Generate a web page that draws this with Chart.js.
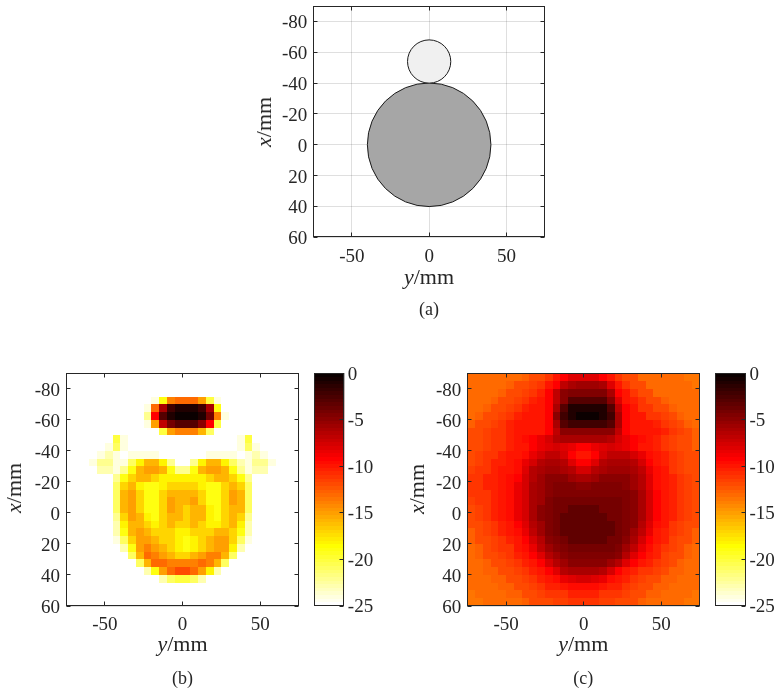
<!DOCTYPE html>
<html>
<head>
<meta charset="utf-8">
<script src="https://cdn.jsdelivr.net/npm/chart.js@4.4.1/dist/chart.umd.min.js"></script>
<style>
  html, body { margin:0; padding:0; background:#fff; }
  #fig { position:relative; width:781px; height:696px; overflow:hidden; font-family:"Liberation Serif","Times New Roman",serif; color:#262626; }
  #fig canvas { position:absolute; }
  .t { position:absolute; white-space:nowrap; line-height:1; transform:translate(-50%,-50%); }
  .ax { font-size:22px; }
  .rot { transform:translate(-50%,-50%) rotate(-90deg); }
  .cap { font-size:18px; }
</style>
</head>
<body>
<div id="fig">
  <canvas id="cA"></canvas>
  <canvas id="cB"></canvas>
  <canvas id="cBbar"></canvas>
  <canvas id="cC"></canvas>
  <canvas id="cCbar"></canvas>

  <div class="t ax rot" style="left:263.6px;top:121.7px"><i>x</i>/mm</div>
  <div class="t ax" style="left:429px;top:276.6px"><i>y</i>/mm</div>
  <div class="t cap" style="left:429px;top:308.5px">(a)</div>

  <div class="t ax rot" style="left:14.3px;top:488px"><i>x</i>/mm</div>
  <div class="t ax" style="left:182.5px;top:643.6px"><i>y</i>/mm</div>
  <div class="t cap" style="left:182.5px;top:677.5px">(b)</div>

  <div class="t ax rot" style="left:416.6px;top:488.5px"><i>x</i>/mm</div>
  <div class="t ax" style="left:583.3px;top:643.6px"><i>y</i>/mm</div>
  <div class="t cap" style="left:583.3px;top:677.5px">(c)</div>
</div>
<script>
// ---------------- data ----------------
const W = -25; // background level (dB)
const hTicks = [-50, 0, 50];                              // horizontal axis: y/mm
const vTicks = [-80, -60, -40, -20, 0, 20, 40, 60];       // vertical axis: x/mm
const hLimits = [-75, 75];
const vLimits = [-90, 60];
const cbTicks = [0, -5, -10, -15, -20, -25];
const cbLimits = [-25, 0];

// panel (a): phantom discs (centre y, centre x, radius, all in mm)
const discY = [0, 0];
const discX = [0, -54];
const discR = [40, 14];

// heat-map cell centres (mm)
const cellY = [-72.5,-67.5,-62.5,-57.5,-52.5,-47.5,-42.5,-37.5,-32.5,-27.5,-22.5,-17.5,-12.5,-7.5,-2.5,2.5,7.5,12.5,17.5,22.5,27.5,32.5,37.5,42.5,47.5,52.5,57.5,62.5,67.5,72.5];
const cellX = [-87.5,-82.5,-77.5,-72.5,-67.5,-62.5,-57.5,-52.5,-47.5,-42.5,-37.5,-32.5,-27.5,-22.5,-17.5,-12.5,-7.5,-2.5,2.5,7.5,12.5,17.5,22.5,27.5,32.5,37.5,42.5,47.5,52.5,57.5];
const cellSize = 5;

// panel (b) image values (dB), rows = x from -87.5 to 57.5, cols = y from -72.5 to 72.5
const mapB = [
[W,W,W,W,W,W,W,W,W,W,W,W,W,W,W,W,W,W,W,W,W,W,W,W,W,W,W,W,W,W],
[W,W,W,W,W,W,W,W,W,W,W,W,W,W,W,W,W,W,W,W,W,W,W,W,W,W,W,W,W,W],
[W,W,W,W,W,W,W,W,W,W,W,W,W,W,W,W,W,W,W,W,W,W,W,W,W,W,W,W,W,W],
[W,W,W,W,W,W,W,W,W,W,W,-24,-19,-14,-13,-13,-13,-15,-20,-24,W,W,W,W,W,W,W,W,W,W],
[W,W,W,W,W,W,W,W,W,W,-24,-13,-6,-2,-1,-1,-1,-2,-6,-19,W,W,W,W,W,W,W,W,W,W],
[W,W,W,W,W,W,W,W,W,W,-22,-9,-3,-1,0,0,0,-1,-4,-14,-24,W,W,W,W,W,W,W,W,W],
[W,W,W,W,W,W,W,W,W,W,-24,-15,-7,-4,-3,-3,-3,-5,-9,-20,W,W,W,W,W,W,W,W,W,W],
[W,W,W,W,W,W,W,W,W,W,W,W,-20,-15,-14,-14,-14,-16,-21,W,W,W,W,W,W,W,W,W,W,W],
[W,W,W,W,W,W,-20,-24,W,W,W,W,W,W,W,W,W,W,W,W,W,W,-24,-20,W,W,W,W,W,W],
[W,W,W,W,W,-24,-21,-24,W,W,W,W,W,W,W,W,W,W,W,W,W,W,-24,-21,-24,W,W,W,W,W],
[W,W,W,W,-24,-23,-24,W,-24,-24,-24,-24,W,W,W,W,W,W,-24,-24,-24,-24,W,-24,-23,-24,W,W,W,W],
[W,W,W,-24,-22,-22,-24,-24,-21,-18,-16,-16,-18,-22,W,W,-22,-18,-16,-16,-18,-21,-23,-24,-22,-22,-24,W,W,W],
[W,W,W,W,-23,-23,-24,-22,-19,-16,-15,-15,-16,-19,-22,-22,-19,-16,-15,-15,-16,-19,-22,-24,-23,-23,W,W,W,W],
[W,W,W,W,W,W,-22,-19,-17,-16,-16,-17,-18,-18,-18,-18,-18,-18,-17,-16,-16,-17,-19,-22,W,W,W,W,W,W],
[W,W,W,W,W,W,-21,-17,-16,-18,-19,-19,-18,-17,-17,-17,-17,-18,-19,-19,-17,-16,-17,-21,W,W,W,W,W,W],
[W,W,W,W,W,W,-21,-16,-15,-17,-19,-19,-17,-16,-16,-16,-16,-17,-19,-19,-17,-15,-16,-21,W,W,W,W,W,W],
[W,W,W,W,W,W,-21,-16,-15,-17,-19,-19,-17,-15,-16,-16,-15,-17,-19,-19,-17,-15,-16,-21,W,W,W,W,W,W],
[W,W,W,W,W,W,-21,-16,-15,-17,-19,-19,-17,-15,-16,-17,-16,-16,-18,-19,-17,-16,-16,-21,W,W,W,W,W,W],
[W,W,W,W,W,W,-22,-17,-15,-16,-18,-19,-17,-16,-16,-17,-16,-16,-18,-19,-17,-16,-17,-22,W,W,W,W,W,W],
[W,W,W,W,W,W,-23,-18,-16,-16,-17,-18,-17,-16,-17,-17,-16,-17,-18,-18,-17,-16,-18,-23,W,W,W,W,W,W],
[W,W,W,W,W,W,-23,-19,-16,-15,-16,-17,-17,-17,-18,-18,-17,-17,-17,-16,-16,-17,-19,-23,W,W,W,W,W,W],
[W,W,W,W,W,W,-24,-21,-17,-15,-15,-16,-17,-17,-18,-19,-18,-17,-16,-15,-15,-17,-21,-24,W,W,W,W,W,W],
[W,W,W,W,W,W,W,-23,-19,-15,-14,-15,-16,-17,-18,-19,-18,-17,-16,-15,-15,-18,-23,W,W,W,W,W,W,W],
[W,W,W,W,W,W,W,W,-21,-16,-13,-14,-15,-16,-17,-17,-16,-15,-14,-14,-16,-21,W,W,W,W,W,W,W,W],
[W,W,W,W,W,W,W,W,W,-21,-16,-13,-13,-14,-14,-14,-14,-13,-14,-16,-21,W,W,W,W,W,W,W,W,W],
[W,W,W,W,W,W,W,W,W,W,-23,-19,-15,-13,-12,-12,-13,-15,-18,-23,W,W,W,W,W,W,W,W,W,W],
[W,W,W,W,W,W,W,W,W,W,W,W,-23,-21,-20,-20,-21,-23,W,W,W,W,W,W,W,W,W,W,W,W],
[W,W,W,W,W,W,W,W,W,W,W,W,W,W,W,W,W,W,W,W,W,W,W,W,W,W,W,W,W,W],
[W,W,W,W,W,W,W,W,W,W,W,W,W,W,W,W,W,W,W,W,W,W,W,W,W,W,W,W,W,W],
[W,W,W,W,W,W,W,W,W,W,W,W,W,W,W,W,W,W,W,W,W,W,W,W,W,W,W,W,W,W]
];

// panel (c) image values (dB)
const mapC = [
[-13,-13,-13,-13,-13,-13,-13,-12.5,-12,-12,-11,-10,-9,-8,-8,-8,-8,-9,-10,-11,-12,-12,-13,-13,-13,-13,-13,-13,-13.5,-13.5],
[-13,-13,-13,-13,-13,-12.5,-12,-12,-11.5,-11,-10,-9,-7,-6,-5.5,-5.5,-5.5,-6,-8,-10,-11,-12,-12,-13,-13,-13,-13,-13,-13,-13.5],
[-13,-13,-13,-13,-12.5,-12,-12,-11.5,-11,-10.5,-9,-7,-5,-4.5,-4.5,-4.5,-4.5,-4.5,-6,-9,-10,-11,-12,-12,-13,-13,-13,-13,-13,-13],
[-13,-13,-13,-12.5,-12,-12,-11.5,-11,-10.5,-10,-9,-7,-5,-3,-3,-3,-3,-3,-5,-8,-10,-10.5,-11,-12,-12,-12.5,-13,-13,-13,-13],
[-13,-13,-12.5,-12,-12,-11.5,-11,-10.5,-10,-10,-9,-6,-3,-1,-1,-1,-1,-1,-3,-7,-9,-10,-11,-11,-12,-12,-12.5,-13,-13,-13],
[-13,-12.5,-12,-12,-11.5,-11,-10.5,-10,-10,-10,-9,-5,-2,-1,0,0,0,-1,-2,-6,-9,-10,-10,-11,-11,-11.5,-12,-12.5,-13,-13],
[-12.5,-12,-12,-11.5,-11,-10.5,-10,-10,-10,-10,-9,-6,-3,-2,-2,-2,-2,-2,-3,-6,-9,-10,-10,-10,-10.5,-11,-11.5,-12,-12.5,-13],
[-12,-12,-11.5,-11,-11,-10.5,-10,-10,-10,-10,-9,-7,-5,-5,-5,-5,-5,-5,-5,-7,-9,-10,-10,-10,-10,-10.5,-11,-11.5,-12,-12.5],
[-12,-12,-11.5,-11,-11,-10.5,-10,-9.5,-9,-8.5,-7.5,-6.5,-6,-6,-6,-6,-6,-6,-6.5,-7.5,-8.5,-9,-9.5,-10,-10.5,-11,-11.5,-12,-12,-12.5],
[-12,-12,-11.5,-11,-11,-10.5,-10,-10,-9,-8.5,-8,-7.5,-8,-8.5,-9,-9,-8.5,-8,-7.5,-8,-8.5,-9,-10,-10,-10.5,-11,-11.5,-12,-12,-12.5],
[-12,-11.5,-11,-11,-10.5,-10,-10,-9.5,-8.5,-7.5,-7,-7,-7.5,-9,-10,-10,-9,-7.5,-7,-7,-7,-7.5,-8.5,-9.5,-10,-10.5,-11,-11.5,-12,-12],
[-12,-11.5,-11,-10.5,-10.5,-10,-9.5,-8.5,-7.5,-6.5,-6,-6,-6.5,-8,-9,-9,-8,-6.5,-6,-6,-6,-6.5,-7.5,-9,-10,-10.5,-11,-11.5,-12,-12],
[-11.5,-11,-11,-10.5,-10,-10,-9.5,-8,-6.5,-6,-5.5,-5.5,-6,-6.5,-7.5,-7.5,-6.5,-6,-5.5,-5.5,-5.5,-6,-7,-8.5,-9.5,-10,-11,-11.5,-12,-12],
[-11,-11,-10.5,-10.5,-10,-9.5,-9,-7.5,-6.5,-5.5,-5,-5,-5,-5.5,-6,-6,-5.5,-5,-5,-5,-5,-5.5,-6.5,-8,-9.5,-10,-10.5,-11,-11.5,-12],
[-11,-11,-10.5,-10.5,-10,-9.5,-8.5,-7.5,-6,-5.5,-5,-4.5,-4.5,-4.5,-5,-5,-4.5,-4.5,-4.5,-4.5,-5,-5.5,-6.5,-8,-9.5,-10,-10.5,-11,-11.5,-12],
[-11,-11,-11,-10.5,-10,-9.5,-8.5,-7.5,-6,-5.5,-5,-4.5,-4.5,-4.5,-4.5,-4.5,-4.5,-4.5,-4.5,-4.5,-4.5,-5,-6,-7.5,-9,-10,-10.5,-11,-11.5,-12],
[-11.5,-11,-11,-10.5,-10,-9.5,-8.5,-7.5,-6,-5.5,-4.5,-4,-4,-4,-4,-4,-4,-4,-4,-4,-4.5,-5,-6,-7.5,-9,-10,-10.5,-11,-11.5,-12],
[-12,-11.5,-11,-10.5,-10,-9.5,-8.5,-7.5,-6,-5,-4.5,-4,-4,-3.5,-3.5,-3.5,-3.5,-4,-4,-4,-4.5,-5,-6,-7.5,-9,-10,-10.5,-11,-11.5,-12],
[-12,-11.5,-11,-10.5,-10,-9.5,-8.5,-7.5,-6,-5,-4.5,-4,-3.5,-3.5,-3.5,-3.5,-3.5,-3.5,-4,-4,-4.5,-5,-6,-7.5,-9,-10,-10.5,-11,-11.5,-12],
[-12,-12,-11.5,-11,-10.5,-10,-9,-8,-6.5,-5.5,-4.5,-4,-3.5,-3.5,-3.5,-3.5,-3.5,-3.5,-3.5,-4,-4.5,-5,-6.5,-8,-9.5,-10,-11,-11.5,-12,-12],
[-12.5,-12,-11.5,-11,-10.5,-10,-9.5,-8.5,-7,-5.5,-4.5,-4,-3.5,-3.5,-3.5,-3.5,-3.5,-3.5,-3.5,-4,-4.5,-5.5,-7,-8.5,-10,-10.5,-11,-11.5,-12,-12.5],
[-12.5,-12,-12,-11.5,-11,-10.5,-10,-9,-7.5,-6.5,-5,-4.5,-4,-3.5,-3.5,-3.5,-3.5,-3.5,-4,-4,-5,-6,-7.5,-9,-10,-10.5,-11.5,-12,-12,-12.5],
[-13,-12.5,-12,-11.5,-11,-11,-10,-9.5,-8.5,-7,-5.5,-5,-4.5,-4,-4,-4,-4,-4,-4,-4.5,-5.5,-7,-8.5,-9.5,-10.5,-11,-11.5,-12,-12.5,-13],
[-13,-12.5,-12,-12,-11.5,-11,-10.5,-10,-9,-8,-6.5,-5.5,-5,-4.5,-4.5,-4.5,-4.5,-4.5,-4.5,-5,-6.5,-8,-9,-10,-10.5,-11.5,-12,-12,-12.5,-13],
[-13,-13,-12.5,-12,-12,-11.5,-11,-10.5,-10,-9,-7.5,-6.5,-5.5,-5,-5,-5,-5,-5,-5.5,-6.5,-8,-9,-10,-10.5,-11,-11.5,-12,-12.5,-13,-13],
[-13,-13,-12.5,-12.5,-12,-12,-11.5,-11,-10.5,-10,-9,-8,-6.5,-6,-6,-6,-6,-6.5,-7.5,-9,-10,-10.5,-11,-11,-11.5,-12,-12.5,-12.5,-13,-13],
[-13,-13,-13,-12.5,-12.5,-12,-12,-11.5,-11,-10.5,-10,-9.5,-8.5,-8,-7.5,-7.5,-8,-8.5,-9.5,-10,-10.5,-11,-11.5,-12,-12,-12.5,-12.5,-13,-13,-13],
[-13,-13,-13,-13,-12.5,-12.5,-12,-12,-11.5,-11,-10.5,-10.5,-10,-9.5,-9.5,-9.5,-9.5,-10,-10.5,-10.5,-11,-11.5,-12,-12,-12.5,-12.5,-13,-13,-13,-13],
[-13.5,-13,-13,-13,-13,-12.5,-12.5,-12,-12,-11.5,-11,-11,-11,-10.5,-10.5,-10.5,-10.5,-11,-11,-11,-11.5,-12,-12,-12.5,-12.5,-13,-13,-13,-13,-13.5],
[-13.5,-13.5,-13,-13,-13,-13,-13,-12.5,-12,-12,-12,-11.5,-11.5,-11,-11,-11,-11,-11.5,-11.5,-12,-12,-12,-12.5,-13,-13,-13,-13,-13,-13.5,-13.5]
];

// ---------------- styling / helpers ----------------
const TEXT = '#262626';
const FRAME = '#262626';
const GRID = 'rgba(38,38,38,0.15)';
const FAMILY = "'Liberation Serif', 'Times New Roman', serif";
const FONT = { family: FAMILY, size: 19 };
Chart.defaults.font.family = FAMILY;

// flipped MATLAB "hot" colormap, 64 levels: 0 dB -> black, -25 dB -> white
function hot(v) {
  const s = Math.min(1, Math.max(0, -v / 25));
  const i = Math.min(64, Math.floor(s * 64) + 1);
  const r = Math.min(1, i / 24);
  const g = Math.min(1, Math.max(0, (i - 24) / 24));
  const b = Math.min(1, Math.max(0, (i - 48) / 16));
  return 'rgb(' + Math.round(r * 255) + ',' + Math.round(g * 255) + ',' + Math.round(b * 255) + ')';
}

const al = p => Math.round(p - 0.5) + 0.5;

const heatPlugin = {
  id: 'heatCells',
  beforeDatasetsDraw(chart) {
    const ds = chart.data.datasets.find(d => d.heat);
    if (!ds) return;
    const { ctx, chartArea: a, scales: { x, y } } = chart;
    const h = ds.cell / 2;
    ctx.save();
    ctx.beginPath();
    ctx.rect(a.left, a.top, a.right - a.left, a.bottom - a.top);
    ctx.clip();
    for (const p of ds.data) {
      const x0 = Math.round(x.getPixelForValue(p.x - h));
      const x1 = Math.round(x.getPixelForValue(p.x + h));
      const ya = y.getPixelForValue(p.y - h), yb = y.getPixelForValue(p.y + h);
      const y0 = Math.round(Math.min(ya, yb)), y1 = Math.round(Math.max(ya, yb));
      ctx.fillStyle = hot(p.v);
      ctx.fillRect(x0, y0, x1 - x0, y1 - y0);
    }
    ctx.restore();
  }
};

const discPlugin = {
  id: 'discs',
  beforeDatasetsDraw(chart) {
    const ds = chart.data.datasets.find(d => d.discs);
    if (!ds) return;
    const { ctx, scales: { x, y } } = chart;
    ctx.save();
    ds.data.forEach((p, i) => {
      const cx = x.getPixelForValue(p.x), cy = y.getPixelForValue(p.y);
      const r = Math.abs(x.getPixelForValue(p.x + p.rad) - cx);
      ctx.beginPath();
      ctx.arc(cx, cy, r, 0, 2 * Math.PI);
      ctx.fillStyle = ds.fills[i];
      ctx.fill();
      ctx.lineWidth = 1;
      ctx.strokeStyle = '#1a1a1a';
      ctx.stroke();
    });
    ctx.restore();
  }
};

const colorbarPlugin = {
  id: 'colorbar',
  beforeDatasetsDraw(chart) {
    const ds = chart.data.datasets[0];
    if (!ds || !ds.colorbar) return;
    const { ctx, chartArea: a, scales: { y } } = chart;
    const n = 64, span = cbLimits[1] - cbLimits[0];
    for (let i = 0; i < n; i++) {
      const vTop = cbLimits[1] - span * i / n;
      const vBot = cbLimits[1] - span * (i + 1) / n;
      const y0 = Math.round(y.getPixelForValue(vTop));
      const y1 = Math.round(y.getPixelForValue(vBot));
      ctx.fillStyle = hot((vTop + vBot) / 2);
      ctx.fillRect(a.left, y0, a.right - a.left, y1 - y0);
    }
  }
};

function makeFrame(all) {
  return {
    id: 'frame',
    afterDraw(chart) {
      const { ctx, chartArea: a } = chart;
      const L = al(a.left), R = al(a.right - 1), T = al(a.top), B = al(a.bottom - 1);
      const k = 4;
      ctx.save();
      ctx.strokeStyle = FRAME;
      ctx.lineWidth = 1;
      ctx.strokeRect(L, T, R - L, B - T);
      ctx.beginPath();
      const ys = chart.scales.y;
      if (all) {
        const xs = chart.scales.x;
        for (const t of xs.ticks) {
          const p = al(xs.getPixelForValue(t.value));
          ctx.moveTo(p, B); ctx.lineTo(p, B - k);
          ctx.moveTo(p, T); ctx.lineTo(p, T + k);
        }
        for (const t of ys.ticks) {
          const p = al(ys.getPixelForValue(t.value));
          ctx.moveTo(L, p); ctx.lineTo(L + k, p);
          ctx.moveTo(R, p); ctx.lineTo(R - k, p);
        }
      } else {
        for (const t of ys.ticks) {
          const p = al(ys.getPixelForValue(t.value));
          ctx.moveTo(R, p); ctx.lineTo(R - k, p);
        }
      }
      ctx.stroke();
      ctx.restore();
    }
  };
}

function place(canvas, plot, m) {
  const left = Math.max(0, Math.floor(plot.l) - m.l);
  const top = Math.max(0, Math.floor(plot.t) - m.t);
  const right = Math.ceil(plot.r) + m.r;
  const bottom = Math.ceil(plot.b) + m.b;
  canvas.width = right - left;
  canvas.height = bottom - top;
  canvas.style.left = left + 'px';
  canvas.style.top = top + 'px';
  canvas.style.width = canvas.width + 'px';
  canvas.style.height = canvas.height + 'px';
  return { padLeft: plot.l - left, padTop: plot.t - top, padRight: right - plot.r, padBottom: bottom - plot.b };
}

function panelChart(id, plot, datasets, plugins) {
  const cv = document.getElementById(id);
  const g = place(cv, plot, { l: 70, t: 12, r: 8, b: 44 });
  return new Chart(cv, {
    type: 'scatter',
    data: { datasets },
    plugins: plugins.concat([makeFrame(true)]),
    options: {
      responsive: false, animation: false, events: [],
      layout: { padding: { top: g.padTop, right: g.padRight, left: 0, bottom: 0 } },
      plugins: { legend: { display: false }, tooltip: { enabled: false } },
      scales: {
        x: {
          type: 'linear', position: 'bottom', min: hLimits[0], max: hLimits[1], z: 1,
          afterBuildTicks: s => { s.ticks = hTicks.map(v => ({ value: v })); },
          afterFit: s => { s.height = g.padBottom; s.paddingLeft = 0; s.paddingRight = 0; },
          grid: { color: GRID, lineWidth: 1, drawTicks: false },
          border: { display: false },
          ticks: { font: FONT, color: TEXT, padding: 8, maxRotation: 0, autoSkip: false, callback: v => String(v) }
        },
        y: {
          type: 'linear', position: 'left', reverse: true, min: vLimits[0], max: vLimits[1], z: 1,
          afterBuildTicks: s => { s.ticks = vTicks.map(v => ({ value: v })); },
          afterFit: s => { s.width = g.padLeft; s.paddingTop = 0; s.paddingBottom = 0; },
          grid: { color: GRID, lineWidth: 1, drawTicks: false },
          border: { display: false },
          ticks: { font: FONT, color: TEXT, padding: 6, autoSkip: false, labelOffset: 2, callback: v => String(v) }
        }
      }
    }
  });
}

function colorbarChart(id, plot) {
  const cv = document.getElementById(id);
  const g = place(cv, plot, { l: 4, t: 12, r: 40, b: 12 });
  return new Chart(cv, {
    type: 'scatter',
    data: { datasets: [{ data: [], colorbar: true }] },
    plugins: [colorbarPlugin, makeFrame(false)],
    options: {
      responsive: false, animation: false, events: [],
      layout: { padding: { left: g.padLeft, top: g.padTop, bottom: g.padBottom, right: 0 } },
      plugins: { legend: { display: false }, tooltip: { enabled: false } },
      scales: {
        x: { display: false, min: 0, max: 1 },
        y: {
          position: 'right', min: cbLimits[0], max: cbLimits[1], z: 1,
          afterBuildTicks: s => { s.ticks = cbTicks.slice().sort((a, b) => a - b).map(v => ({ value: v })); },
          afterFit: s => { s.width = g.padRight; s.paddingTop = 0; s.paddingBottom = 0; },
          grid: { display: false, drawTicks: false },
          border: { display: false },
          ticks: { font: FONT, color: TEXT, padding: 3.5, autoSkip: false, labelOffset: 1.5, callback: v => String(v) }
        }
      }
    }
  });
}

function cells(map) {
  return map.flatMap((row, i) => row.map((v, j) => ({ x: cellY[j], y: cellX[i], v })));
}

// ---------------- panels ----------------
const plotA = { l: 313.3, t: 6, r: 545, b: 237.3 };
const plotB = { l: 66, t: 373.3, r: 299, b: 606 };
const plotC = { l: 467.3, t: 373.3, r: 700, b: 606 };
const barB = { l: 314.3, t: 373.3, r: 344.3, b: 606 };
const barC = { l: 715, t: 373.3, r: 746, b: 606 };

panelChart('cA', plotA, [{
  label: 'phantom',
  data: discY.map((y, i) => ({ x: y, y: discX[i], rad: discR[i] })),
  discs: true,
  fills: ['#a6a6a6', '#f0f0f0'],
  pointRadius: 0
}], [discPlugin]);

panelChart('cB', plotB, [{ label: 'b', data: cells(mapB), heat: true, cell: cellSize, pointRadius: 0 }], [heatPlugin]);
colorbarChart('cBbar', barB);
panelChart('cC', plotC, [{ label: 'c', data: cells(mapC), heat: true, cell: cellSize, pointRadius: 0 }], [heatPlugin]);
colorbarChart('cCbar', barC);
</script>
</body>
</html>
